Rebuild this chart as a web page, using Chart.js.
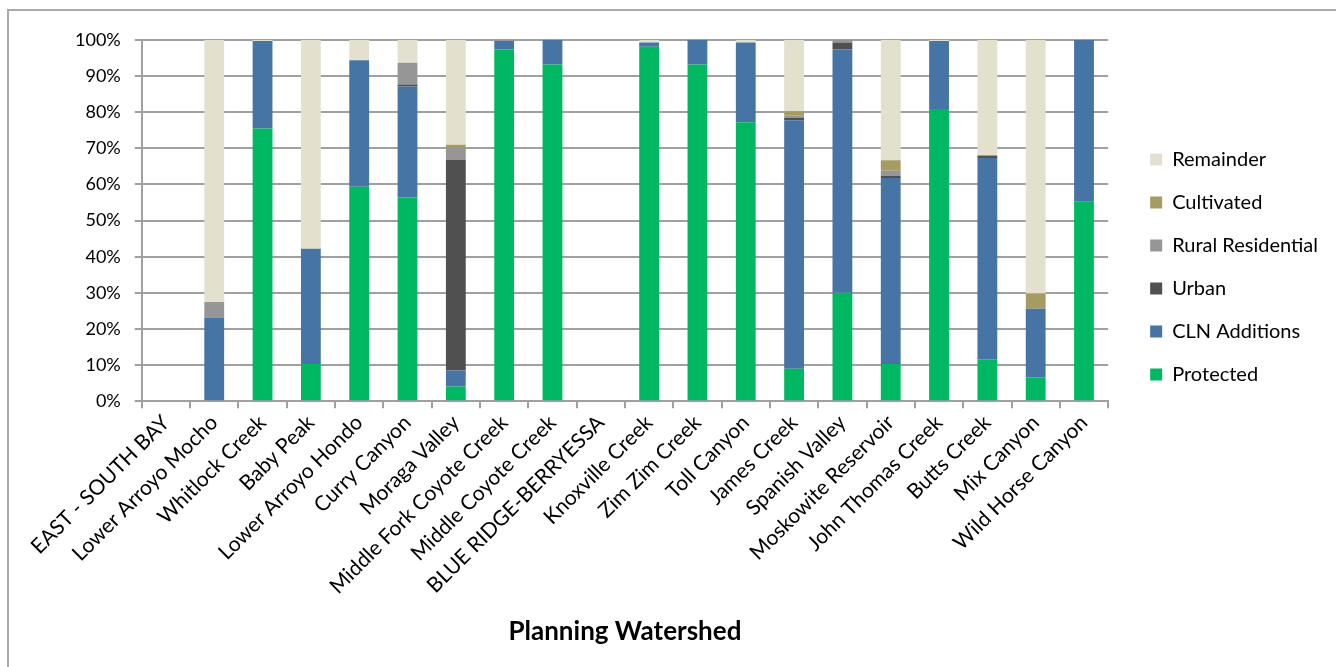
<!DOCTYPE html>
<html>
<head>
<meta charset="utf-8">
<title>Planning Watershed</title>
<script src="https://cdn.jsdelivr.net/npm/chart.js@4.4.1/dist/chart.umd.min.js"></script>
<style>
    html, body { margin: 0; padding: 0; background: #fff; }
    #wrap { position: relative; width: 1336px; height: 667px; overflow: hidden; }
    #frame { position: absolute; left: 7px; top: 9px; width: 1340px; height: 670px;
             border-left: 2px solid #a9a9a9; border-top: 2px solid #a9a9a9; }
    #chart { position: absolute; left: 0; top: 0; }
</style>
</head>
<body>
<div id="wrap">
    <div id="frame"></div>
    <canvas id="chart" width="1336" height="667"></canvas>
</div>
<script>
// ==========================
// Data (percent of watershed area)
// ==========================
const watersheds = [
    'EAST - SOUTH BAY', 'Lower Arroyo Mocho', 'Whitlock Creek', 'Baby Peak',
    'Lower Arroyo Hondo', 'Curry Canyon', 'Moraga Valley', 'Middle Fork Coyote Creek',
    'Middle Coyote Creek', 'BLUE RIDGE-BERRYESSA', 'Knoxville Creek', 'Zim Zim Creek',
    'Toll Canyon', 'James Creek', 'Spanish Valley', 'Moskowite Reservoir',
    'John Thomas Creek', 'Butts Creek', 'Mix Canyon', 'Wild Horse Canyon'
];
const protectedPct    = [0, 0,    75.5, 10.3, 59.4, 56.4, 4.1,  97.4, 93.2, 0, 98.1, 93.2, 77.2, 9.0,  30.0, 10.3, 80.9, 11.6, 6.6,  55.2];
const clnAdditions    = [0, 23.2, 24.2, 31.9, 35.0, 30.7, 4.4,  2.3,  6.8,  0, 1.2,  6.8,  22.1, 68.8, 67.4, 51.5, 18.8, 55.7, 19.0, 44.8];
const urban           = [0, 0,    0,    0,    0,    0.6,  58.3, 0,    0,    0, 0,    0,    0,    0.6,  1.9,  0.6,  0,    0.7,  0,    0];
const ruralResidential= [0, 4.3,  0,    0,    0,    6.0,  3.6,  0.3,  0,    0, 0,    0,    0,    0.6,  0.7,  1.4,  0,    0,    0,    0];
const cultivated      = [0, 0,    0,    0,    0,    0,    0.6,  0,    0,    0, 0,    0,    0,    1.3,  0,    2.9,  0,    0,    4.2,  0];
const remainder       = [0, 72.5, 0.3,  57.8, 5.6,  6.3,  29.0, 0,    0,    0, 0.7,  0,    0.7,  19.7, 0,    33.3, 0.3,  32.0, 70.2, 0];

const FONT = 'Lato, "Gill Sans", "Noto Sans", sans-serif';
const GRID = '#a0a0a0';

function series(label, data, color) {
    return { label, data, backgroundColor: color, borderWidth: 0,
             categoryPercentage: 1.0, barPercentage: 0.41 };
}

// ==========================
// Chart
// ==========================
const ctx = document.getElementById('chart').getContext('2d');
new Chart(ctx, {
    type: 'bar',
    data: {
        labels: watersheds,
        datasets: [
            series('Protected', protectedPct, '#00b862'),
            series('CLN Additions', clnAdditions, '#4674a4'),
            series('Urban', urban, '#505050'),
            series('Rural Residential', ruralResidential, '#969696'),
            series('Cultivated', cultivated, '#a69b63'),
            series('Remainder', remainder, '#e3e0cd')
        ]
    },
    options: {
        responsive: false,
        animation: false,
        layout: { padding: { top: 40, left: 61, right: 8, bottom: 20 } },
        plugins: {
            tooltip: { enabled: false },
            legend: {
                position: 'right',
                align: 'start',
                reverse: true,
                title: { display: true, text: '', padding: { top: 72, bottom: 0 } },
                labels: {
                    boxWidth: 12, boxHeight: 12, padding: 23, color: '#000',
                    font: { family: FONT, size: 20 }
                }
            }
        },
        scales: {
            x: {
                stacked: true,
                grid: { drawOnChartArea: false, drawTicks: true, tickLength: 7, color: GRID, lineWidth: 2, offset: true },
                border: { color: GRID, width: 2 },
                ticks: {
                    autoSkip: false, maxRotation: 45, minRotation: 45, padding: 2,
                    color: '#000', font: { family: FONT, size: 21 }
                },
                title: {
                    display: true, text: 'Planning Watershed', color: '#000',
                    font: { family: FONT, size: 26, weight: 'bold' },
                    padding: { top: 15, bottom: 0 }
                }
            },
            y: {
                stacked: true,
                min: 0, max: 100,
                grid: { color: GRID, lineWidth: 2, tickLength: 7 },
                border: { color: GRID, width: 2 },
                ticks: {
                    stepSize: 10, padding: 14, color: '#000',
                    font: { family: FONT, size: 18 },
                    callback: v => v + '%'
                }
            },
            // empty spacer axis: keeps the legend clear of the plot's right edge
            gap: {
                position: 'right',
                display: true,
                grid: { display: false },
                border: { display: false },
                ticks: { display: false },
                afterFit: s => { s.width = 19; }
            }
        }
    }
});
</script>
</body>
</html>
